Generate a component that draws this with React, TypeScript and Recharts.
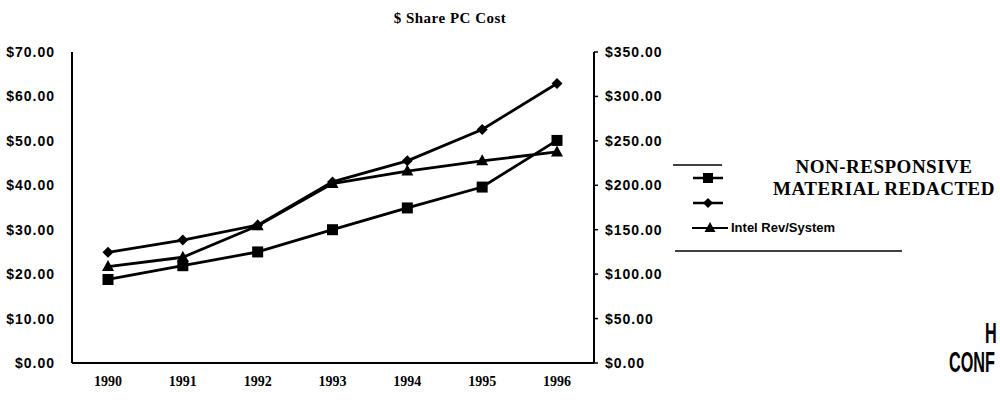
import React from 'react';
import { LineChart, Line, XAxis, YAxis, Legend } from 'recharts';

const years = ['1990', '1991', '1992', '1993', '1994', '1995', '1996'];
// left axis ($0 - $70)
const intelRevSystem = [21.7, 23.8, 30.9, 40.4, 43.2, 45.5, 47.5];
const redactedSquare = [18.8, 21.9, 25.0, 30.0, 34.9, 39.6, 50.1];
// right axis ($0 - $350)
const redactedDiamond = [124.5, 138.3, 155.2, 203.8, 227.5, 262.8, 314.5];
const leftTicks = [0, 10, 20, 30, 40, 50, 60, 70];
const rightTicks = [0, 50, 100, 150, 200, 250, 300, 350];
const titleText = '$ Share PC Cost';
const legendLines = ['NON-RESPONSIVE', 'MATERIAL REDACTED'];
const legendLabel = 'Intel Rev/System';

const data = years.map((year, i) => ({
  year,
  square: redactedSquare[i],
  diamond: redactedDiamond[i],
  intel: intelRevSystem[i],
}));

const money = (v: number) => `$${v.toFixed(2)}`;

const SquareDot = (p: any) => {
  const { cx, cy, index } = p;
  if (cx == null || cy == null) return <g key={`s${index}`} />;
  return <rect key={`s${index}`} x={cx - 5.5} y={cy - 5.5} width={11} height={11} fill="#000" />;
};
const DiamondDot = (p: any) => {
  const { cx, cy, index } = p;
  if (cx == null || cy == null) return <g key={`d${index}`} />;
  return (
    <polygon
      key={`d${index}`}
      points={`${cx},${cy - 5.5} ${cx + 5.5},${cy} ${cx},${cy + 5.5} ${cx - 5.5},${cy}`}
      fill="#000"
    />
  );
};
const TriangleDot = (p: any) => {
  const { cx, cy, index } = p;
  if (cx == null || cy == null) return <g key={`t${index}`} />;
  return (
    <polygon
      key={`t${index}`}
      points={`${cx},${cy - 6.5} ${cx + 6},${cy + 4.5} ${cx - 6},${cy + 4.5}`}
      fill="#000"
    />
  );
};

const LegendContent = () => (
  <svg width={340} height={110} style={{ display: 'block', overflow: 'visible' }}>
    <line x1={13} y1={15} x2={62} y2={15} stroke="#000" strokeWidth={1.5} />
    <line x1={33} y1={28} x2={63} y2={28} stroke="#000" strokeWidth={2.5} />
    <rect x={43} y={23} width={10} height={10} fill="#000" />
    <line x1={33} y1={53} x2={63} y2={53} stroke="#000" strokeWidth={2.5} />
    <polygon points="48,48 53,53 48,58 43,53" fill="#000" />
    <line x1={32} y1={78} x2={68} y2={78} stroke="#000" strokeWidth={2} />
    <polygon points="50,72 55.5,82 44.5,82" fill="#000" />
    <text
      x={71}
      y={82}
      fontFamily="Liberation Sans, Arial, sans-serif"
      fontWeight={700}
      fontSize={13}
      fill="#000"
    >
      {legendLabel}
    </text>
    <line x1={15} y1={101} x2={242} y2={101} stroke="#000" strokeWidth={1.5} />
    {legendLines.map((t, i) => (
      <text
        key={t}
        x={224}
        y={23 + i * 22}
        textAnchor="middle"
        fontFamily="Liberation Serif, Times New Roman, serif"
        fontWeight={700}
        fontSize={19}
        letterSpacing={0.5}
        fill="#000"
      >
        {t}
      </text>
    ))}
  </svg>
);

const axisTick = {
  fill: '#000',
  fontSize: 14,
  fontWeight: 700,
  fontFamily: 'Liberation Sans, Arial, sans-serif',
  letterSpacing: 1,
};

export default function App() {
  return (
    <div
      style={{
        position: 'absolute',
        left: 0,
        top: 0,
        width: 1000,
        height: 400,
        background: '#fff',
        overflow: 'hidden',
      }}
    >
      <LineChart
        width={1000}
        height={400}
        data={data}
        margin={{ top: 52, right: 326, bottom: 7, left: 12 }}
      >
        <XAxis
          dataKey="year"
          scale="point"
          padding={{ left: 36, right: 37 }}
          height={30}
          tickSize={0}
          tickMargin={13}
          tickLine={false}
          axisLine={{ stroke: '#000', strokeWidth: 2 }}
          tick={{
            fill: '#000',
            fontSize: 14,
            fontWeight: 700,
            fontFamily: 'Liberation Serif, Times New Roman, serif',
          }}
        />
        <XAxis
          xAxisId="top"
          orientation="top"
          dataKey="year"
          scale="point"
          padding={{ left: 36, right: 37 }}
          height={0}
          tick={false}
          tickLine={false}
          axisLine={{ stroke: '#000', strokeWidth: 2 }}
        />
        <YAxis
          yAxisId="left"
          domain={[0, 70]}
          ticks={leftTicks}
          interval={0}
          width={60}
          tickFormatter={money}
          tickSize={0}
          tickMargin={17}
          tickLine={false}
          axisLine={{ stroke: '#000', strokeWidth: 2 }}
          tick={axisTick}
        />
        <YAxis
          yAxisId="right"
          orientation="right"
          domain={[0, 350]}
          ticks={rightTicks}
          interval={0}
          width={80}
          tickFormatter={money}
          tickSize={4}
          tickMargin={7}
          tickLine={{ stroke: '#000', strokeWidth: 1.5 }}
          axisLine={{ stroke: '#000', strokeWidth: 2 }}
          tick={axisTick}
        />
        <Legend
          layout="horizontal"
          verticalAlign="middle"
          align="center"
          content={LegendContent}
          wrapperStyle={{ position: 'absolute', left: 660, top: 150, width: 340, height: 110 }}
        />
        <Line
          yAxisId="left"
          dataKey="square"
          name="Non-responsive (square)"
          stroke="#000"
          strokeWidth={2.8}
          dot={SquareDot}
          activeDot={false}
          isAnimationActive={false}
        />
        <Line
          yAxisId="right"
          dataKey="diamond"
          name="Non-responsive (diamond)"
          stroke="#000"
          strokeWidth={2.8}
          dot={DiamondDot}
          activeDot={false}
          isAnimationActive={false}
        />
        <Line
          yAxisId="left"
          dataKey="intel"
          name={legendLabel}
          stroke="#000"
          strokeWidth={2.8}
          dot={TriangleDot}
          activeDot={false}
          isAnimationActive={false}
        />
      </LineChart>
      <svg
        width={1000}
        height={400}
        style={{ position: 'absolute', left: 0, top: 0, pointerEvents: 'none' }}
      >
        <text
          x={450}
          y={23}
          textAnchor="middle"
          fontFamily="Liberation Serif, Times New Roman, serif"
          fontWeight={700}
          fontSize={15}
          letterSpacing={0.5}
          fill="#000"
        >
          {titleText}
        </text>
        <text
          transform="translate(985,343) scale(0.56,1)"
          x={0}
          y={0}
          fontFamily="Liberation Sans, Arial, sans-serif"
          fontWeight={700}
          fontSize={29}
          fill="#000"
        >
          H
        </text>
        <text
          transform="translate(949,372) scale(0.56,1)"
          x={0}
          y={0}
          fontFamily="Liberation Sans, Arial, sans-serif"
          fontWeight={700}
          fontSize={29}
          fill="#000"
        >
          CONF
        </text>
      </svg>
    </div>
  );
}
